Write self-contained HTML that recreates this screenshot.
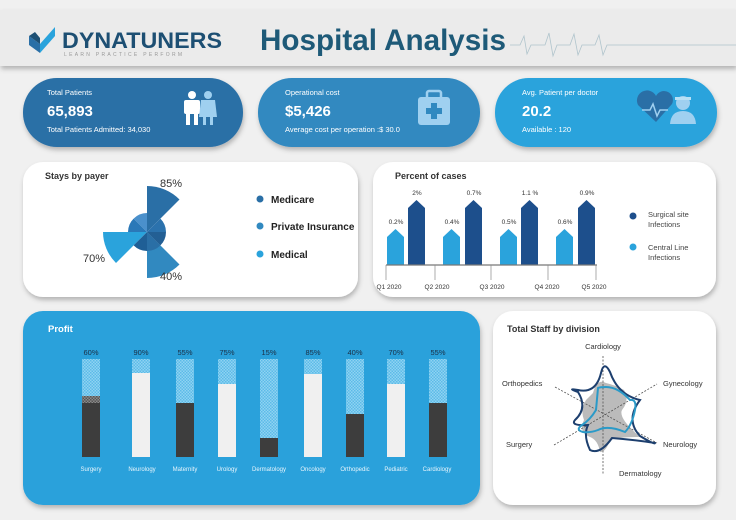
<!DOCTYPE html>
<html><head><meta charset="utf-8"><style>
html,body{margin:0;padding:0;background:#f0f0f0;}
svg{display:block;font-family:"Liberation Sans",Arial,sans-serif;}
</style></head><body>
<svg width="736" height="520" viewBox="0 0 736 520" xmlns="http://www.w3.org/2000/svg">
<defs>
<filter id="sh" x="-10%" y="-10%" width="120%" height="130%"><feDropShadow dx="1" dy="3" stdDeviation="2.5" flood-color="#000" flood-opacity="0.25"/></filter>
<pattern id="hb" width="3" height="3" patternUnits="userSpaceOnUse"><rect width="3" height="3" fill="#8fd3f2"/><rect width="1.5" height="1.5" fill="#5cbbe8"/><rect x="1.5" y="1.5" width="1.5" height="1.5" fill="#5cbbe8"/></pattern>
<pattern id="hg" width="3" height="3" patternUnits="userSpaceOnUse"><rect width="3" height="3" fill="#8a8a8a"/><rect width="1.5" height="1.5" fill="#555"/><rect x="1.5" y="1.5" width="1.5" height="1.5" fill="#555"/></pattern>
</defs>
<rect width="736" height="520" fill="#f0f0f0"/>
<!-- header -->
<rect x="0" y="10" width="736" height="56" fill="#ebebeb" filter="url(#sh)"/>
<path d="M29 36 L40 44 L40 53 L29 45 Z" fill="#2a6fa6"/>
<path d="M40 44 L55 27 L55 36 L40 53 Z" fill="#2aa3dc"/>
<path d="M29 36 L35 32 L40 38 L40 44 Z" fill="#1d4f73"/>
<text x="62" y="48" font-size="22" font-weight="bold" fill="#1d4f73" textLength="160" lengthAdjust="spacingAndGlyphs">DYNATUNERS</text>
<text x="64" y="56" font-size="5" fill="#999" letter-spacing="2.3">LEARN PRACTICE PERFORM</text>
<text x="260" y="50" font-size="30" font-weight="bold" fill="#1e5a78" textLength="246" lengthAdjust="spacingAndGlyphs">Hospital Analysis</text>
<path d="M510 45 L520 45 L524 36 L527 54 L531 45 L545 45 L549 33 L553 56 L557 45 L570 45 L574 34 L578 55 L582 45 L595 45 L599 35 L603 55 L607 45 L736 45" fill="none" stroke="#b0c4cc" stroke-width="0.8"/>
<!-- KPI cards -->
<rect x="23" y="78" width="220" height="69" rx="34" fill="#2a6fa6" filter="url(#sh)"/>
<rect x="258" y="78" width="222" height="69" rx="34" fill="#3189c0" filter="url(#sh)"/>
<rect x="495" y="78" width="222" height="69" rx="34" fill="#2aa3dc" filter="url(#sh)"/>
<g fill="#fff">
<text x="47" y="95" font-size="7.5">Total Patients</text>
<text x="47" y="116" font-size="15" font-weight="bold">65,893</text>
<text x="47" y="132" font-size="7.5">Total Patients Admitted: 34,030</text>
<text x="285" y="95" font-size="7.5">Operational cost</text>
<text x="285" y="116" font-size="15" font-weight="bold">$5,426</text>
<text x="285" y="132" font-size="7.5">Average cost per operation :$ 30.0</text>
<text x="522" y="95" font-size="7.5">Avg. Patient per doctor</text>
<text x="522" y="116" font-size="15" font-weight="bold">20.2</text>
<text x="522" y="132" font-size="7.5">Available  : 120</text>
</g>
<!-- people icon -->
<circle cx="192" cy="95" r="4" fill="#fff"/>
<rect x="184" y="100" width="16" height="14" rx="2" fill="#fff"/>
<rect x="186" y="112" width="4" height="13" fill="#fff"/><rect x="194" y="112" width="4" height="13" fill="#fff"/>
<circle cx="208" cy="95" r="4" fill="#9fd0f0"/>
<path d="M201 100 H215 L217 117 H199 Z" fill="#9fd0f0"/>
<rect x="203" y="115" width="3" height="10" fill="#9fd0f0"/><rect x="210" y="115" width="3" height="10" fill="#9fd0f0"/>
<!-- medkit -->
<rect x="427" y="91" width="14" height="8" rx="2" fill="none" stroke="#9fd0f0" stroke-width="2.5"/>
<rect x="418" y="97" width="32" height="28" rx="3" fill="#9fd0f0"/>
<rect x="431" y="103" width="6" height="16" fill="#3189c0"/><rect x="426" y="108" width="16" height="6" fill="#3189c0"/>
<!-- heart + doctor -->
<path d="M656 122 L638 105 A8 8 0 0 1 656 96 A8 8 0 0 1 672 104 Z" fill="#2a6fa6"/>
<path d="M642 110 L650 110 L653 104 L657 116 L660 110 L668 110" fill="none" stroke="#9fd0f0" stroke-width="1.5"/>
<circle cx="683" cy="103" r="7" fill="#9fd0f0"/>
<path d="M675 97 H691 V100 H675 Z" fill="#b8e0f5"/>
<path d="M670 124 Q671 111 683 111 Q695 111 696 124 Z" fill="#9fd0f0"/>
<!-- row 2 panels -->
<rect x="23" y="162" width="335" height="135" rx="20" fill="#fff" filter="url(#sh)"/>
<rect x="373" y="162" width="343" height="135" rx="20" fill="#fff" filter="url(#sh)"/>
<text x="45" y="179" font-size="9" font-weight="bold" fill="#333">Stays by payer</text>
<!-- polar -->
<g transform="translate(147,232)">
<path d="M0 0 L0 -46 A46 46 0 0 1 32.5 -32.5 Z" fill="#2a6fa6"/>
<path d="M0 0 L0 46 A46 46 0 0 0 32.5 32.5 Z" fill="#3189c0"/>
<path d="M0 0 L-44 0 A44 44 0 0 0 -31 31 Z" fill="#2aa3dc"/>
<path d="M0 0 L0 -19 A19 19 0 0 0 -13.4 -13.4 Z" fill="#4a90cc"/>
<path d="M0 0 L-13.4 -13.4 A19 19 0 0 0 -19 0 Z" fill="#2a78b8"/>
<path d="M0 0 L-13.4 13.4 A19 19 0 0 0 0 19 Z" fill="#1f5f96"/>
<path d="M0 0 L0 19 A19 19 0 0 0 13.4 13.4 Z" fill="#2a6fa6"/>
<path d="M0 0 L13.4 13.4 A19 19 0 0 0 19 0 Z" fill="#235f94"/>
<path d="M0 0 L19 0 A19 19 0 0 0 13.4 -13.4 Z" fill="#2b72ad"/>
</g>
<g font-size="11" fill="#333">
<text x="160" y="187">85%</text>
<text x="160" y="280">40%</text>
<text x="83" y="262">70%</text>
</g>
<circle cx="260" cy="199" r="3.5" fill="#2a6fa6"/><circle cx="260" cy="226" r="3.5" fill="#3189c0"/><circle cx="260" cy="254" r="3.5" fill="#2aa3dc"/>
<g font-size="10" font-weight="bold" fill="#222">
<text x="271" y="203">Medicare</text><text x="271" y="230">Private Insurance</text><text x="271" y="258">Medical</text>
</g>
<!-- percent of cases -->
<text x="395" y="179" font-size="9" font-weight="bold" fill="#333">Percent of cases</text>
<g>
<path d="M387 265 V237 L395.5 229 L404 237 V265 Z" fill="#2aa3dc"/>
<path d="M408 265 V208 L416.5 200 L425 208 V265 Z" fill="#1d4f8c"/>
<path d="M443 265 V237 L451.5 229 L460 237 V265 Z" fill="#2aa3dc"/>
<path d="M465 265 V208 L473.5 200 L482 208 V265 Z" fill="#1d4f8c"/>
<path d="M500 265 V237 L508.5 229 L517 237 V265 Z" fill="#2aa3dc"/>
<path d="M521 265 V208 L529.5 200 L538 208 V265 Z" fill="#1d4f8c"/>
<path d="M556 265 V237 L564.5 229 L573 237 V265 Z" fill="#2aa3dc"/>
<path d="M578 265 V208 L586.5 200 L595 208 V265 Z" fill="#1d4f8c"/>
</g>
<g font-size="6.5" fill="#333" text-anchor="middle">
<text x="396" y="224">0.2%</text><text x="417" y="195">2%</text>
<text x="452" y="224">0.4%</text><text x="474" y="195">0.7%</text>
<text x="509" y="224">0.5%</text><text x="530" y="195">1.1 %</text>
<text x="565" y="224">0.6%</text><text x="587" y="195">0.9%</text>
</g>
<line x1="386" y1="265" x2="597" y2="265" stroke="#777" stroke-width="1.2"/>
<g stroke="#888" stroke-width="0.7">
<line x1="386" y1="265" x2="386" y2="280"/><line x1="435" y1="265" x2="435" y2="280"/><line x1="491" y1="265" x2="491" y2="280"/><line x1="548" y1="265" x2="548" y2="280"/><line x1="596" y1="265" x2="596" y2="280"/>
</g>
<g font-size="6.5" fill="#333" text-anchor="middle">
<text x="389" y="289">Q1 2020</text><text x="437" y="289">Q2 2020</text><text x="492" y="289">Q3 2020</text><text x="547" y="289">Q4 2020</text><text x="594" y="289">Q5 2020</text>
</g>
<circle cx="633" cy="216" r="3.5" fill="#1d4f8c"/><circle cx="633" cy="247" r="3.5" fill="#2aa3dc"/>
<g font-size="7.5" fill="#444">
<text x="648" y="217">Surgical site</text><text x="648" y="227">Infections</text>
<text x="648" y="250">Central Line</text><text x="648" y="260">Infections</text>
</g>
<!-- profit -->
<rect x="23" y="311" width="457" height="194" rx="20" fill="#29a1db" filter="url(#sh)"/>
<text x="48" y="332" font-size="9.5" font-weight="bold" fill="#fff">Profit</text>
<g id="bars">
<rect x="82" y="359" width="18" height="98" fill="url(#hb)"/><rect x="82" y="396" width="18" height="7" fill="url(#hg)"/><rect x="82" y="403" width="18" height="54" fill="#3d3d3d"/>
<rect x="132" y="359" width="18" height="98" fill="url(#hb)"/><rect x="132" y="373" width="18" height="84" fill="#f0f0f0"/>
<rect x="176" y="359" width="18" height="98" fill="url(#hb)"/><rect x="176" y="403" width="18" height="54" fill="#3d3d3d"/>
<rect x="218" y="359" width="18" height="98" fill="url(#hb)"/><rect x="218" y="384" width="18" height="73" fill="#f0f0f0"/>
<rect x="260" y="359" width="18" height="98" fill="url(#hb)"/><rect x="260" y="438" width="18" height="19" fill="#3d3d3d"/>
<rect x="304" y="359" width="18" height="98" fill="url(#hb)"/><rect x="304" y="374" width="18" height="83" fill="#f0f0f0"/>
<rect x="346" y="359" width="18" height="98" fill="url(#hb)"/><rect x="346" y="414" width="18" height="43" fill="#3d3d3d"/>
<rect x="387" y="359" width="18" height="98" fill="url(#hb)"/><rect x="387" y="384" width="18" height="73" fill="#f0f0f0"/>
<rect x="429" y="359" width="18" height="98" fill="url(#hb)"/><rect x="429" y="403" width="18" height="54" fill="#3d3d3d"/>
</g>
<g font-size="7.5" fill="#1b2f45" text-anchor="middle">
<text x="91" y="355">60%</text><text x="141" y="355">90%</text><text x="185" y="355">55%</text><text x="227" y="355">75%</text><text x="269" y="355">15%</text><text x="313" y="355">85%</text><text x="355" y="355">40%</text><text x="396" y="355">70%</text><text x="438" y="355">55%</text>
</g>
<g font-size="6" fill="#e8f5fc" text-anchor="middle">
<text x="91" y="471">Surgery</text><text x="142" y="471">Neurology</text><text x="185" y="471">Maternity</text><text x="227" y="471">Urology</text><text x="269" y="471">Dermatology</text><text x="313" y="471">Oncology</text><text x="355" y="471">Orthopedic</text><text x="396" y="471">Pediatric</text><text x="437" y="471">Cardiology</text>
</g>
<!-- staff radar -->
<rect x="493" y="311" width="223" height="194" rx="20" fill="#fff" filter="url(#sh)"/>
<text x="507" y="332" font-size="9" font-weight="bold" fill="#333">Total Staff by division</text>
<path d="M593 393 Q597 378 606 383 Q615 385 624 390 Q630 400 622 410 Q618 418 640 437 Q620 437 610 440 Q606 452 600 452 Q598 440 590 437 Q578 432 584 420 Q580 410 586 400 Z" fill="#bbb"/>
<g stroke="#555" stroke-width="0.8" stroke-dasharray="2,1.5" fill="none">
<line x1="603" y1="356" x2="603" y2="474"/>
<line x1="555" y1="387" x2="657" y2="443"/>
<line x1="554" y1="445" x2="657" y2="384"/>
</g>
<path d="M578 390 Q596 394 601 373 Q604 360 610 372 Q618 395 640 400 Q625 420 640 436 Q655 445 655 443 Q636 440 612 438 Q600 455 590 450 Q583 435 588 425 Q570 426 575 420 Q588 408 578 392 Q566 388 578 390 Z" fill="none" stroke="#1d3f6e" stroke-width="2"/>
<path d="M598 388 Q600 387 606 387 Q618 387 630 400 Q637 399 635 410 Q632 425 625 432 Q608 425 598 430 Q590 433 583 432 Q575 430 582 425 Q590 420 596 410 Z" fill="none" stroke="#2a9ac8" stroke-width="2"/>
<g font-size="7.5" fill="#333">
<text x="603" y="349" text-anchor="middle">Cardiology</text>
<text x="502" y="386">Orthopedics</text>
<text x="663" y="386">Gynecology</text>
<text x="506" y="447">Surgery</text>
<text x="663" y="447">Neurology</text>
<text x="619" y="476">Dermatology</text>
</g>
</svg>
</body></html>
